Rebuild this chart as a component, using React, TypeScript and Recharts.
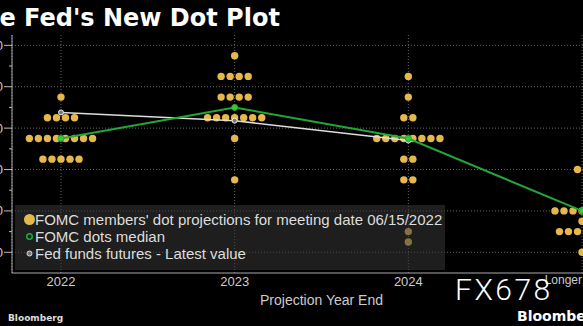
import {
  CartesianGrid,
  ComposedChart,
  Legend,
  Scatter,
  XAxis,
  YAxis,
} from "recharts";

const years = ["2022", "2023", "2024", "Longer Run"];

// [rate, number of participants] for each year of the June 2022 dot plot
const dots2022: [number, number][] = [
  [3.875, 1],
  [3.625, 4],
  [3.375, 8],
  [3.125, 5],
];
const dots2023: [number, number][] = [
  [4.375, 1],
  [4.125, 4],
  [3.875, 4],
  [3.625, 7],
  [3.375, 1],
  [2.875, 1],
];
const dots2024: [number, number][] = [
  [4.125, 1],
  [3.875, 1],
  [3.625, 2],
  [3.375, 8],
  [3.125, 2],
  [2.875, 2],
  [2.25, 1],
  [2.125, 1],
];
const dotsLongerRun: [number, number][] = [
  [3.0, 2],
  [2.5, 7],
  [2.375, 1],
  [2.25, 6],
  [2.0, 1],
];

const medianDots = [3.375, 3.75, 3.375, 2.5];
const futuresLatest = [3.69, 3.59, 3.35];

const yMajorTicks = [2, 2.5, 3, 3.5, 4, 4.5];
const yAllTicks = [2, 2.25, 2.5, 2.75, 3, 3.25, 3.5, 3.75, 4, 4.25, 4.5];

const DOT_STEP = 0.052; // horizontal spacing of stacked dots, in category units
const GOLD = "#e6b84c";
const GREEN = "#22a636";
const FONT = "'Liberation Sans', Arial, sans-serif";

const dotData = [dots2022, dots2023, dots2024, dotsLongerRun].flatMap((levels, ci) =>
  levels.flatMap(([rate, count]) =>
    Array.from({ length: count }, (_, j) => ({
      x: ci + (j - (count - 1) / 2) * DOT_STEP,
      y: rate,
    })),
  ),
);
const medianData = medianDots.map((y, x) => ({ x, y }));
const futuresData = futuresLatest.map((y, x) => ({ x, y }));

function YTick({ x, y, payload }: any) {
  const major = yMajorTicks.includes(payload.value);
  return (
    <g>
      <line x1={x - (major ? 8 : 3)} x2={x} y1={y} y2={y} stroke="#bbb" />
      {major ? (
        <text x={x - 9} y={y} dy={4.5} textAnchor="end" fill="#ccc" fontSize={13} fontFamily={FONT}>
          {payload.value.toFixed(2)}
        </text>
      ) : null}
    </g>
  );
}

function XTick({ x, y, payload }: any) {
  const label = years[payload.value] ?? "";
  const small = payload.value === years.length - 1;
  return (
    <text
      x={x}
      y={y}
      dx={small ? -6 : 0}
      dy={small ? 8 : 10}
      textAnchor="middle"
      fill="#ccc"
      fontSize={small ? 12 : 13}
      fontFamily={FONT}
    >
      {label}
    </text>
  );
}

function renderLegend() {
  const rows = [
    { label: "FOMC members' dot projections for meeting date 06/15/2022", icon: <circle cx={14.5} cy={8.5} r={5.5} fill={GOLD} /> },
    { label: "FOMC dots median", icon: <circle cx={14.5} cy={8.5} r={2.8} fill="#123" stroke={GREEN} strokeWidth={1.5} /> },
    { label: "Fed funds futures - Latest value", icon: <circle cx={14.5} cy={8.5} r={2.5} fill="#777" stroke="#ddd" strokeWidth={1} /> },
  ];
  return (
    <div
      style={{
        width: 430,
        height: 65,
        boxSizing: "border-box",
        paddingTop: 6,
        background: "rgba(55,55,55,0.55)",
        fontFamily: FONT,
        fontSize: 15,
        color: "#ddd",
      }}
    >
      {rows.map((row) => (
        <div key={row.label} style={{ display: "flex", alignItems: "center", height: 17 }}>
          <svg width={20} height={17}>{row.icon}</svg>
          <span>{row.label}</span>
        </div>
      ))}
    </div>
  );
}

export default function App() {
  return (
    <div
      style={{
        position: "absolute",
        left: 0,
        top: 0,
        width: 583,
        height: 326,
        overflow: "hidden",
        background: "#000",
      }}
    >
      <div
        style={{
          position: "absolute",
          left: -34,
          top: 6,
          lineHeight: "24px",
          fontFamily: "'DejaVu Sans', sans-serif",
          fontWeight: 700,
          fontSize: 24,
          color: "#fff",
          whiteSpace: "nowrap",
        }}
      >
        The Fed's New Dot Plot
      </div>
      <div style={{ position: "absolute", left: -28, top: 0 }}>
        <ComposedChart width={659} height={313} margin={{ top: 35, right: 0, bottom: 0, left: 0 }}>
          <CartesianGrid
            stroke="#666"
            strokeDasharray="1 2"
            horizontalValues={yMajorTicks}
          />
          <XAxis
            type="number"
            dataKey="x"
            domain={[-0.282, 3.282]}
            ticks={[0, 1, 2, 3]}
            interval={0}
            allowDataOverflow
            height={40}
            axisLine={{ stroke: "#aaa" }}
            tickLine={false}
            tickSize={0}
            tickMargin={3}
            tick={<XTick />}
            label={{
              value: "Projection Year End",
              position: "insideBottom",
              offset: 8,
              fill: "#ccc",
              fontSize: 14,
              fontFamily: FONT,
            }}
          />
          <YAxis
            type="number"
            dataKey="y"
            domain={[1.75, 4.625]}
            ticks={yAllTicks}
            interval={0}
            allowDataOverflow
            width={40}
            axisLine={{ stroke: "#aaa" }}
            tickLine={false}
            tickSize={0}
            tickMargin={0}
            tick={<YTick />}
          />
          <Scatter
            name="FOMC members' dot projections for meeting date 06/15/2022"
            data={dotData}
            isAnimationActive={false}
            shape={(p: any) => <circle cx={p.cx} cy={p.cy} r={3.7} fill={GOLD} />}
          />
          <Scatter
            name="Fed funds futures - Latest value"
            data={futuresData}
            isAnimationActive={false}
            line={{ stroke: "#ddd", strokeWidth: 1.5 }}
            lineType="joint"
            shape={(p: any) => (
              <circle cx={p.cx} cy={p.cy} r={2.5} fill="#777" stroke="#eee" strokeWidth={1} />
            )}
          />
          <Scatter
            name="FOMC dots median"
            data={medianData}
            isAnimationActive={false}
            line={{ stroke: GREEN, strokeWidth: 2 }}
            lineType="joint"
            shape={(p: any) => (
              <circle cx={p.cx} cy={p.cy} r={3} fill="#3c3" stroke={GREEN} strokeWidth={1} />
            )}
          />
          <Legend
            layout="vertical"
            align="center"
            verticalAlign="middle"
            wrapperStyle={{ left: 43, top: 205, width: 430, height: 65 }}
            content={renderLegend}
          />
        </ComposedChart>
      </div>
      <div
        style={{
          position: "absolute",
          left: 455,
          top: 275,
          lineHeight: "30px",
          fontFamily: "Roboto, 'Liberation Sans', sans-serif",
          fontSize: 30,
          fontWeight: 300,
          letterSpacing: 2.5,
          color: "#fff",
          whiteSpace: "nowrap",
        }}
      >
        FX678
      </div>
      <div
        style={{
          position: "absolute",
          left: 8,
          top: 314,
          lineHeight: "9px",
          fontFamily: "'DejaVu Sans', sans-serif",
          fontWeight: 700,
          fontSize: 9,
          color: "#ddd",
        }}
      >
        Bloomberg
      </div>
      <div
        style={{
          position: "absolute",
          left: 517,
          top: 309,
          lineHeight: "14px",
          fontFamily: "'DejaVu Sans', sans-serif",
          fontWeight: 700,
          fontSize: 14,
          color: "#fff",
          whiteSpace: "nowrap",
        }}
      >
        Bloomberg
      </div>
    </div>
  );
}
